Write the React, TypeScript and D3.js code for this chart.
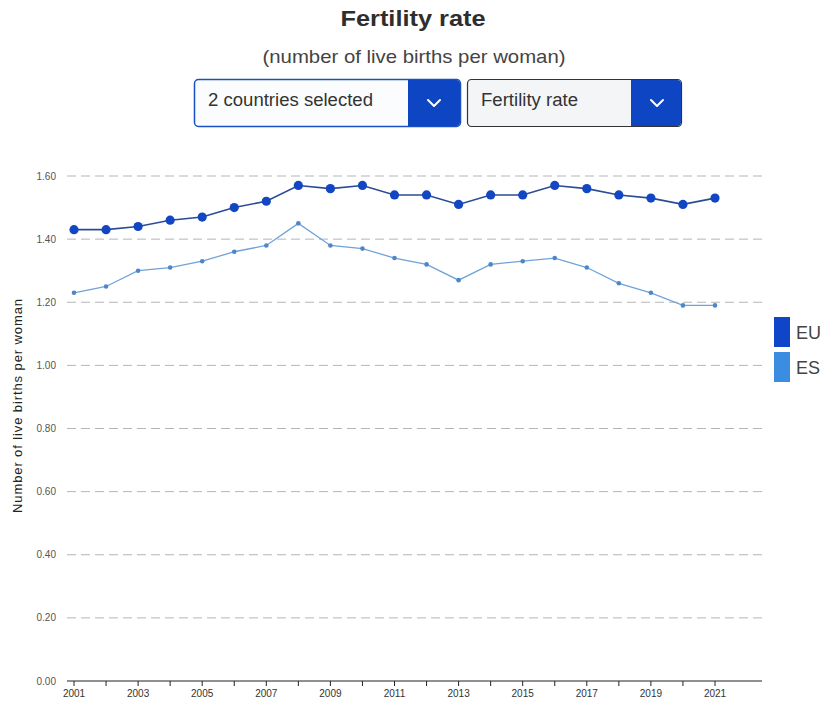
import React from "react";
import * as d3 from "d3";

const years = [2001, 2002, 2003, 2004, 2005, 2006, 2007, 2008, 2009, 2010, 2011, 2012, 2013, 2014, 2015, 2016, 2017, 2018, 2019, 2020, 2021];
const euValues = [1.43, 1.43, 1.44, 1.46, 1.47, 1.50, 1.52, 1.57, 1.56, 1.57, 1.54, 1.54, 1.51, 1.54, 1.54, 1.57, 1.56, 1.54, 1.53, 1.51, 1.53];
const esValues = [1.23, 1.25, 1.30, 1.31, 1.33, 1.36, 1.38, 1.45, 1.38, 1.37, 1.34, 1.32, 1.27, 1.32, 1.33, 1.34, 1.31, 1.26, 1.23, 1.19, 1.19];
const yTicks = [0, 0.2, 0.4, 0.6, 0.8, 1.0, 1.2, 1.4, 1.6];
const seriesNames = ["EU", "ES"];

const W = 823;
const H = 704;

export default function App() {
  const x = d3.scaleLinear().domain([2001, 2021]).range([74, 715]);
  const y = d3.scaleLinear().domain([0, 1.6]).range([681, 176]);
  const line = d3
    .line<number>()
    .x((_, i) => x(years[i]))
    .y((d) => y(d));

  const font = "Arial, 'Liberation Sans', sans-serif";

  const series = [
    { name: seriesNames[0], values: euValues, line: "#2b4c94", dot: "#1246c2", r: 4.6, sw: 1.6, legend: "#0f45c9" },
    { name: seriesNames[1], values: esValues, line: "#6fa3d8", dot: "#4f86c6", r: 2.3, sw: 1.3, legend: "#3b8de2" },
  ];

  return (
    <svg
      width={W}
      height={H}
      style={{ position: "absolute", left: 0, top: 0, display: "block", fontFamily: font }}
    >
      <rect width={W} height={H} fill="#fff" />
      <text x={413} y={26} textAnchor="middle" fontSize={22} fontWeight="bold" fill="#2e2e2e" textLength={145} lengthAdjust="spacingAndGlyphs">
        Fertility rate
      </text>
      <text x={414} y={63} textAnchor="middle" fontSize={19} fill="#444" textLength={303} lengthAdjust="spacingAndGlyphs">
        (number of live births per woman)
      </text>

      {/* selector controls */}
      <g>
        <rect x={194.5} y={79.5} width={266} height={47} rx={4} fill="#fbfcfd" stroke="#1b4fc4" strokeWidth={1.5} />
        <path d="M408,80 H456 a4,4 0 0 1 4,4 V122 a4,4 0 0 1 -4,4 H408 Z" fill="#0e45c2" />
        <text x={208} y={106} fontSize={18} fill="#333" textLength={165} lengthAdjust="spacingAndGlyphs">2 countries selected</text>
        <path d="M428,100 l6,6 l6,-6" fill="none" stroke="#fff" strokeWidth={2} strokeLinecap="round" strokeLinejoin="round" />

        <rect x={467.5} y={79.5} width={214} height={47} rx={4} fill="#f4f5f7" stroke="#333" strokeWidth={1.2} />
        <path d="M631,80 H677 a4,4 0 0 1 4,4 V122 a4,4 0 0 1 -4,4 H631 Z" fill="#0e45c2" />
        <text x={481} y={106} fontSize={18} fill="#333" textLength={97} lengthAdjust="spacingAndGlyphs">Fertility rate</text>
        <path d="M651,100 l6,6 l6,-6" fill="none" stroke="#fff" strokeWidth={2} strokeLinecap="round" strokeLinejoin="round" />
      </g>

      {/* gridlines and y labels */}
      {yTicks.map((t) => (
        <g key={t}>
          {t > 0 && (
            <line x1={67} x2={762} y1={y(t)} y2={y(t)} stroke="#b5b5b5" strokeWidth={1} strokeDasharray="9,5" />
          )}
          <text x={56} y={y(t) + 3.5} textAnchor="end" fontSize={10} fill="#555">
            {t.toFixed(2)}
          </text>
        </g>
      ))}

      {/* x axis */}
      <line x1={67} x2={762} y1={681} y2={681} stroke="#222" strokeWidth={1.2} />
      {years.map((yr, i) => (
        <g key={yr}>
          <line x1={x(yr)} x2={x(yr)} y1={681} y2={686} stroke="#222" strokeWidth={1} />
          {i % 2 === 0 && (
            <text x={x(yr)} y={697} textAnchor="middle" fontSize={10} fill="#333">
              {yr}
            </text>
          )}
        </g>
      ))}

      <text
        transform="translate(22,406) rotate(-90)"
        textAnchor="middle"
        fontSize={13}
        fill="#222"
        textLength={214}
        lengthAdjust="spacing"
      >
        Number of live births per woman
      </text>

      {/* series */}
      {series
        .slice()
        .reverse()
        .map((s) => (
          <g key={s.name}>
            <path d={line(s.values) || ""} fill="none" stroke={s.line} strokeWidth={s.sw} />
            {s.values.map((v, i) => (
              <circle key={i} cx={x(years[i])} cy={y(v)} r={s.r} fill={s.dot} />
            ))}
          </g>
        ))}

      {/* legend */}
      {series.map((s, i) => (
        <g key={s.name} transform={`translate(774,${317 + i * 35})`}>
          <rect width={16} height={30} fill={s.legend} />
          <text x={22} y={22} fontSize={18} fill="#444">
            {s.name}
          </text>
        </g>
      ))}
    </svg>
  );
}
